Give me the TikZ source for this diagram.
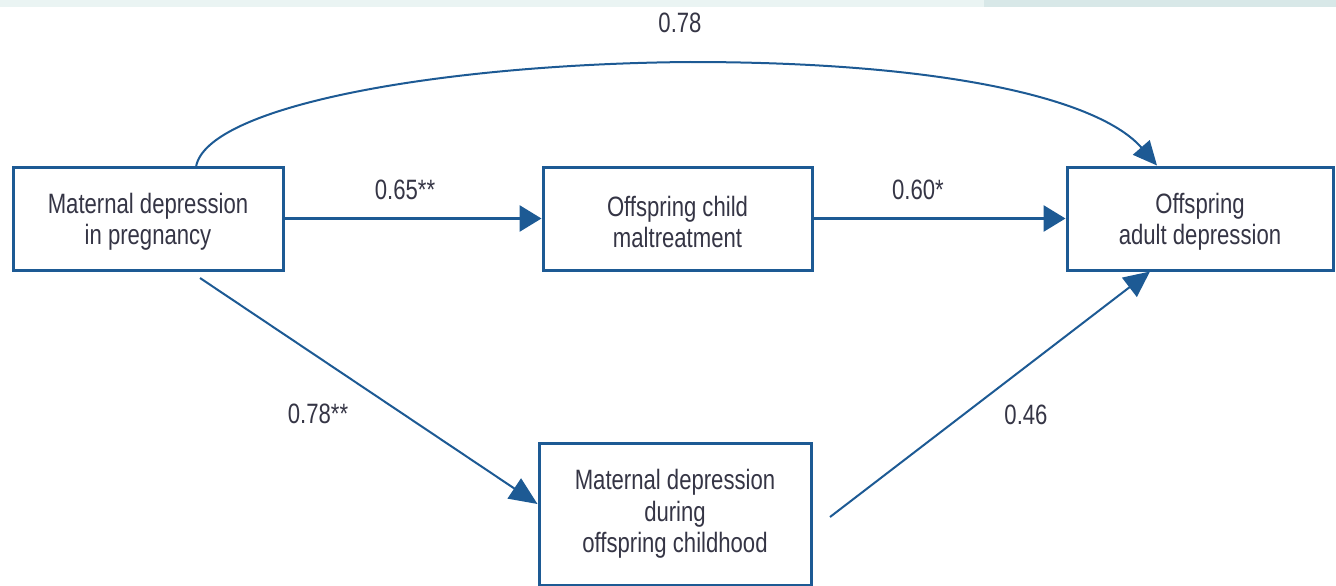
\documentclass[tikz,border=0pt]{standalone}
\usepackage{fontspec}
\setmainfont{Liberation Sans}[FakeStretch=0.79]
\usetikzlibrary{arrows.meta}
\definecolor{pathblue}{HTML}{1D5A94}
\definecolor{labelgray}{HTML}{353545}
\definecolor{bandA}{HTML}{EAF4F3}
\definecolor{bandB}{HTML}{D8E8E8}
% taller first line, so the text block sits a little lower in its box
\newcommand\boxtopstrut{\rule{0pt}{27pt}}
\begin{document}
\begin{tikzpicture}[x=1pt,y=-1pt,
  varbox/.style={draw=pathblue,line width=3pt,fill=white,inner sep=0pt,
    align=center,text=labelgray,font=\fontsize{28}{31.5}\selectfont},
  coef/.style={text=labelgray,font=\fontsize{28}{32}\selectfont,inner sep=0pt},
  pathline/.style={draw=pathblue,line width=3pt,-{Triangle[length=22pt,width=26pt]}},
  thinpath/.style={draw=pathblue,line width=2pt,-{Triangle[length=24pt,width=22pt]}}]
\useasboundingbox (0,0) rectangle (1336,586);
% header band
\fill[bandA] (0,0) rectangle (984,7.5);
\fill[bandB] (984,0) rectangle (1336,7.5);
% variables
\node[varbox,minimum width=270pt,minimum height=103pt] (preg) at (148,218.5)
  {\boxtopstrut Maternal depression\\in pregnancy};
\node[varbox,minimum width=269pt,minimum height=103pt] (maltr) at (677.5,218.5)
  {\boxtopstrut Offspring child\\maltreatment};
\node[varbox,minimum width=266pt,minimum height=103pt] (adult) at (1200,218.5)
  {\boxtopstrut Offspring\\adult depression};
\node[varbox,minimum width=272pt,minimum height=142pt] (childhood) at (675,514)
  {Maternal depression\\during\\offspring childhood};
% free ends of the paths that start beside a box
\coordinate (dstart) at (200,278);
\coordinate (rstart) at (830,517);
\coordinate (arcstart) at (196,167);
\coordinate (arctop) at (690,62);
% paths
\draw[pathline] (preg.east) -- (maltr.west);
\draw[pathline] (maltr.east) -- (adult.west);
\draw[thinpath] (arcstart) .. controls (206,106) and (440,64) .. (arctop)
  .. controls (950,62) and (1100,100) .. ([xshift=-43pt]adult.north);
\draw[thinpath,-{Triangle[length=28pt,width=24pt]}] (dstart) -- ([yshift=10pt]childhood.west);
\draw[thinpath,-{Triangle[length=26pt,width=24pt]}] (rstart) -- ([xshift=-50pt]adult.south);
% coefficients
\node[coef] (c1) at (680,23) {0.78};
\node[coef] (c2) at (405,190) {0.65**};
\node[coef] (c3) at (918,190) {0.60*};
\node[coef] (c4) at (318,414) {0.78**};
\node[coef] (c5) at (1026,415) {0.46};
\end{tikzpicture}
\end{document}
